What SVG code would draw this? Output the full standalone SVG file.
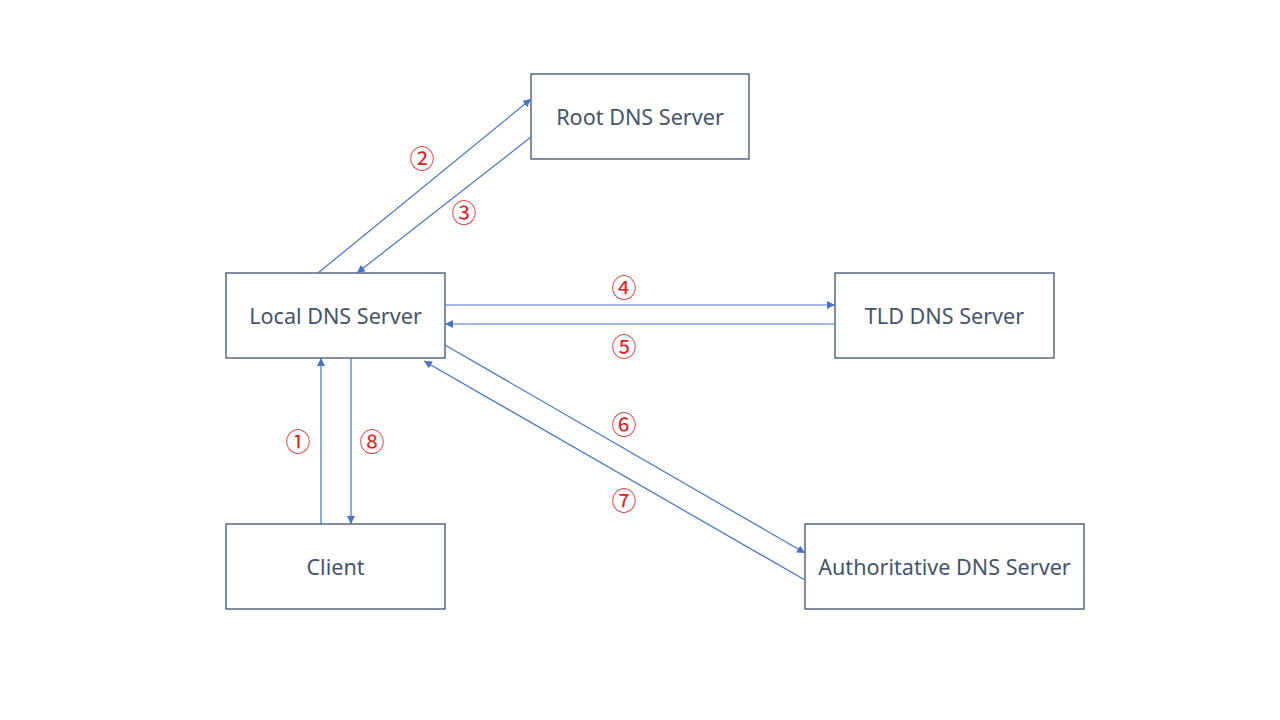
<svg xmlns="http://www.w3.org/2000/svg" width="1280" height="720" viewBox="0 0 1280 720">
<style>
.box{fill:#fff;stroke:#2F4263;stroke-width:1.2}
.lbl{font-family:"Noto Sans","Liberation Sans",sans-serif;font-size:21.6px;fill:#44546A;text-anchor:middle;dominant-baseline:central}
.con{stroke:#4472C4;stroke-width:1.2;fill:none;marker-end:url(#ah)}
.num{font-family:"Noto Sans CJK SC","DejaVu Sans",sans-serif;font-size:25px;fill:#E02020;text-anchor:middle;dominant-baseline:central}
</style>
<defs>
<marker id="ah" viewBox="0 0 10 10" refX="10" refY="5" markerWidth="8" markerHeight="8" markerUnits="userSpaceOnUse" orient="auto">
<path d="M0,0 L10,5 L0,10 z" fill="#4472C4"/>
</marker>
</defs>
<rect width="1280" height="720" fill="#fff"/>
<g id="root"><rect class="box" x="531" y="74" width="218" height="85"/><text class="lbl" x="640" y="116">Root DNS Server</text></g>
<g id="local"><rect class="box" x="226" y="273" width="219" height="85"/><text class="lbl" x="335.5" y="315">Local DNS Server</text></g>
<g id="tld"><rect class="box" x="835" y="273" width="219" height="85"/><text class="lbl" x="944.5" y="315">TLD DNS Server</text></g>
<g id="client"><rect class="box" x="226" y="524" width="219" height="85"/><text class="lbl" x="335.5" y="566">Client</text></g>
<g id="auth"><rect class="box" x="805" y="524" width="279" height="85"/><text class="lbl" x="944.5" y="566">Authoritative DNS Server</text></g>
<g id="connectors">
<line class="con" x1="318" y1="273" x2="531" y2="99"/>
<line class="con" x1="531" y1="137" x2="357" y2="273"/>
<line class="con" x1="445" y1="305" x2="835" y2="305"/>
<line class="con" x1="835" y1="324" x2="445" y2="324"/>
<line class="con" x1="445" y1="345" x2="805" y2="553"/>
<line class="con" x1="805" y1="580" x2="424" y2="361"/>
<line class="con" x1="321" y1="524" x2="321" y2="358"/>
<line class="con" x1="351" y1="358" x2="351" y2="524"/>
</g>
<g id="labels">
<text class="num" x="422" y="157">②</text>
<text class="num" x="464" y="211">③</text>
<text class="num" x="624" y="286">④</text>
<text class="num" x="624" y="345">⑤</text>
<text class="num" x="624" y="423">⑥</text>
<text class="num" x="624" y="499">⑦</text>
<text class="num" x="298" y="440">①</text>
<text class="num" x="372" y="440">⑧</text>
</g>
</svg>
